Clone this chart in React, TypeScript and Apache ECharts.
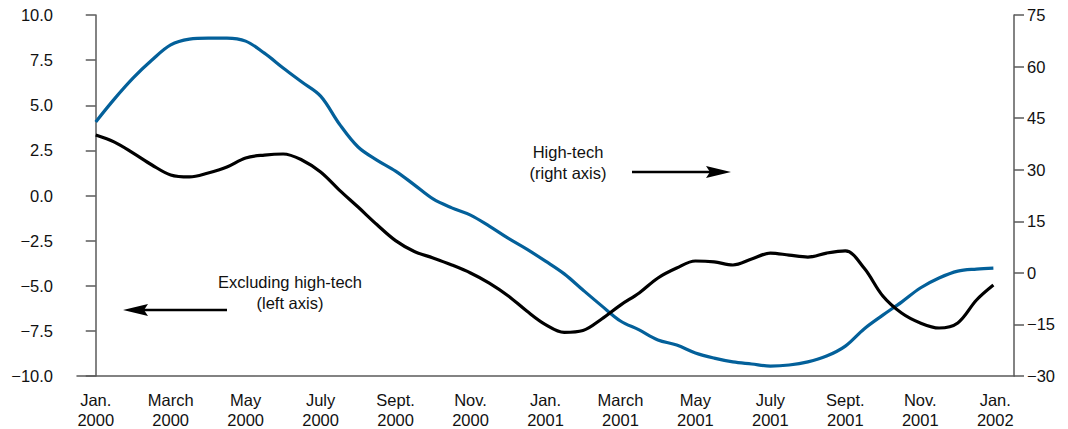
import React, { useEffect, useRef } from "react";
import * as echarts from "echarts";

// Month index (0 = Jan. 2000) sampled every half month
const months: number[] = [
  0, 0.5, 1, 1.5, 2, 2.5, 3, 3.5, 4, 4.5, 5, 5.5, 6, 6.5, 7, 7.5, 8, 8.5, 9, 9.5,
  10, 10.5, 11, 11.5, 12, 12.5, 13, 13.5, 14, 14.5, 15, 15.5, 16, 16.5, 17, 17.5,
  18, 18.5, 19, 19.5, 20, 20.5, 21, 21.5, 22, 22.5, 23, 23.5, 23.95,
];

// High-tech (right axis)
const highTech: number[] = [
  43.9, 50.6, 56.7, 61.9, 66.3, 68.0, 68.3, 68.3, 67.4, 63.9, 59.6, 55.5, 51.4,
  43.3, 36.6, 32.8, 29.6, 25.6, 21.5, 18.9, 16.8, 13.6, 10.1, 6.9, 3.4, -0.3,
  -5.0, -9.6, -14.0, -16.6, -19.5, -21.0, -23.3, -24.8, -25.9, -26.5, -27.1,
  -26.8, -25.9, -24.2, -21.3, -16.3, -12.3, -8.5, -4.4, -1.5, 0.5, 1.1, 1.4,
];

// Excluding high-tech (left axis)
const exHighTech: number[] = [
  3.35, 2.96, 2.35, 1.69, 1.14, 1.03, 1.25, 1.58, 2.08, 2.24, 2.3, 1.97, 1.3,
  0.3, -0.64, -1.61, -2.5, -3.1, -3.46, -3.85, -4.29, -4.85, -5.55, -6.4,
  -7.15, -7.58, -7.48, -6.84, -6.07, -5.4, -4.57, -4.02, -3.63, -3.68, -3.85,
  -3.52, -3.19, -3.3, -3.41, -3.19, -3.07, -4.02, -5.57, -6.51, -7.06, -7.34,
  -7.06, -5.79, -4.96,
];

const xTickMonths: number[] = [0, 2, 4, 6, 8, 10, 12, 14, 16, 18, 20, 22, 24];
const xTickLabels: string[] = [
  "Jan.\n2000", "March\n2000", "May\n2000", "July\n2000", "Sept.\n2000", "Nov.\n2000",
  "Jan.\n2001", "March\n2001", "May\n2001", "July\n2001", "Sept.\n2001", "Nov.\n2001",
  "Jan.\n2002",
];

const FONT = "'Liberation Sans', Arial, Helvetica, sans-serif";
const BLUE = "#03609a";
const AXIS = "#5a5a5a";
const FS = 16.5;

const minus = (s: string) => s.replace("-", "\u2212");

export default function App() {
  const ref = useRef<HTMLDivElement>(null);
  useEffect(() => {
    if (!ref.current) return;
    const chart = echarts.init(ref.current, undefined, { renderer: "svg" });
    const hiData = months.map((m, i) => [m, highTech[i]]);
    const exData = months.map((m, i) => [m, exHighTech[i]]);
    chart.setOption({
      animation: false,
      backgroundColor: "#ffffff",
      textStyle: { fontFamily: FONT },
      grid: { left: 77, right: 54, top: 15, bottom: 53, outerBoundsMode: "none" },
      xAxis: {
        type: "value",
        min: -0.5,
        max: 24.5,
        splitLine: { show: false },
        axisLine: { show: true, onZero: false, lineStyle: { color: AXIS, width: 1.5 } },
        axisTick: { show: false },
        axisLabel: {
          customValues: xTickMonths,
          formatter: (v: number) => xTickLabels[xTickMonths.indexOf(Math.round(v))] ?? "",
          color: "#111",
          fontSize: FS,
          fontFamily: FONT,
          lineHeight: 20,
          margin: 14,
        },
      },
      yAxis: [
        {
          type: "value",
          min: -10,
          max: 10,
          interval: 2.5,
          splitLine: { show: false },
          axisLine: { show: true, lineStyle: { color: AXIS, width: 1.5 } },
          axisTick: { show: true, length: 10, lineStyle: { color: AXIS, width: 1.5 } },
          axisLabel: {
            formatter: (v: number) => minus(v.toFixed(1)),
            color: "#111",
            fontSize: FS,
            fontFamily: FONT,
            margin: 24,
          },
        },
        {
          type: "value",
          position: "right",
          min: -30,
          max: 75,
          interval: 15,
          splitLine: { show: false },
          axisLine: { show: true, lineStyle: { color: AXIS, width: 1.5 } },
          axisTick: { show: true, length: 10, lineStyle: { color: AXIS, width: 1.5 } },
          axisLabel: {
            formatter: (v: number) => minus(String(v)),
            color: "#111",
            fontSize: FS,
            fontFamily: FONT,
            margin: 13,
          },
        },
      ],
      series: [
        {
          name: "High-tech",
          type: "line",
          yAxisIndex: 1,
          data: hiData,
          smooth: 0.35,
          showSymbol: false,
          lineStyle: { color: BLUE, width: 3.2 },
          z: 2,
        },
        {
          name: "Excluding high-tech",
          type: "line",
          yAxisIndex: 0,
          data: exData,
          smooth: 0.35,
          showSymbol: false,
          lineStyle: { color: "#000", width: 3.2 },
          z: 3,
        },
      ],
      graphic: [
        {
          type: "text",
          x: 568,
          y: 162,
          style: {
            text: "High-tech\n(right axis)",
            align: "center",
            verticalAlign: "middle",
            fontSize: FS,
            lineHeight: 21,
            fontFamily: FONT,
            fill: "#111",
          },
        },
        {
          type: "line",
          shape: { x1: 632, y1: 172, x2: 712, y2: 172 },
          style: { stroke: "#000", lineWidth: 2.5 },
        },
        {
          type: "polygon",
          shape: { points: [[706, 166], [731, 172], [706, 178], [710, 172]] },
          style: { fill: "#000" },
        },
        {
          type: "text",
          x: 290,
          y: 292,
          style: {
            text: "Excluding high-tech\n(left axis)",
            align: "center",
            verticalAlign: "middle",
            fontSize: FS,
            lineHeight: 21,
            fontFamily: FONT,
            fill: "#111",
          },
        },
        {
          type: "line",
          shape: { x1: 227, y1: 310, x2: 142, y2: 310 },
          style: { stroke: "#000", lineWidth: 2.5 },
        },
        {
          type: "polygon",
          shape: { points: [[148, 304], [123, 310], [148, 316], [144, 310]] },
          style: { fill: "#000" },
        },
      ],
    });
    return () => chart.dispose();
  }, []);
  return (
    <div
      ref={ref}
      style={{ position: "fixed", left: 0, top: 0, width: 1068, height: 429 }}
    />
  );
}
